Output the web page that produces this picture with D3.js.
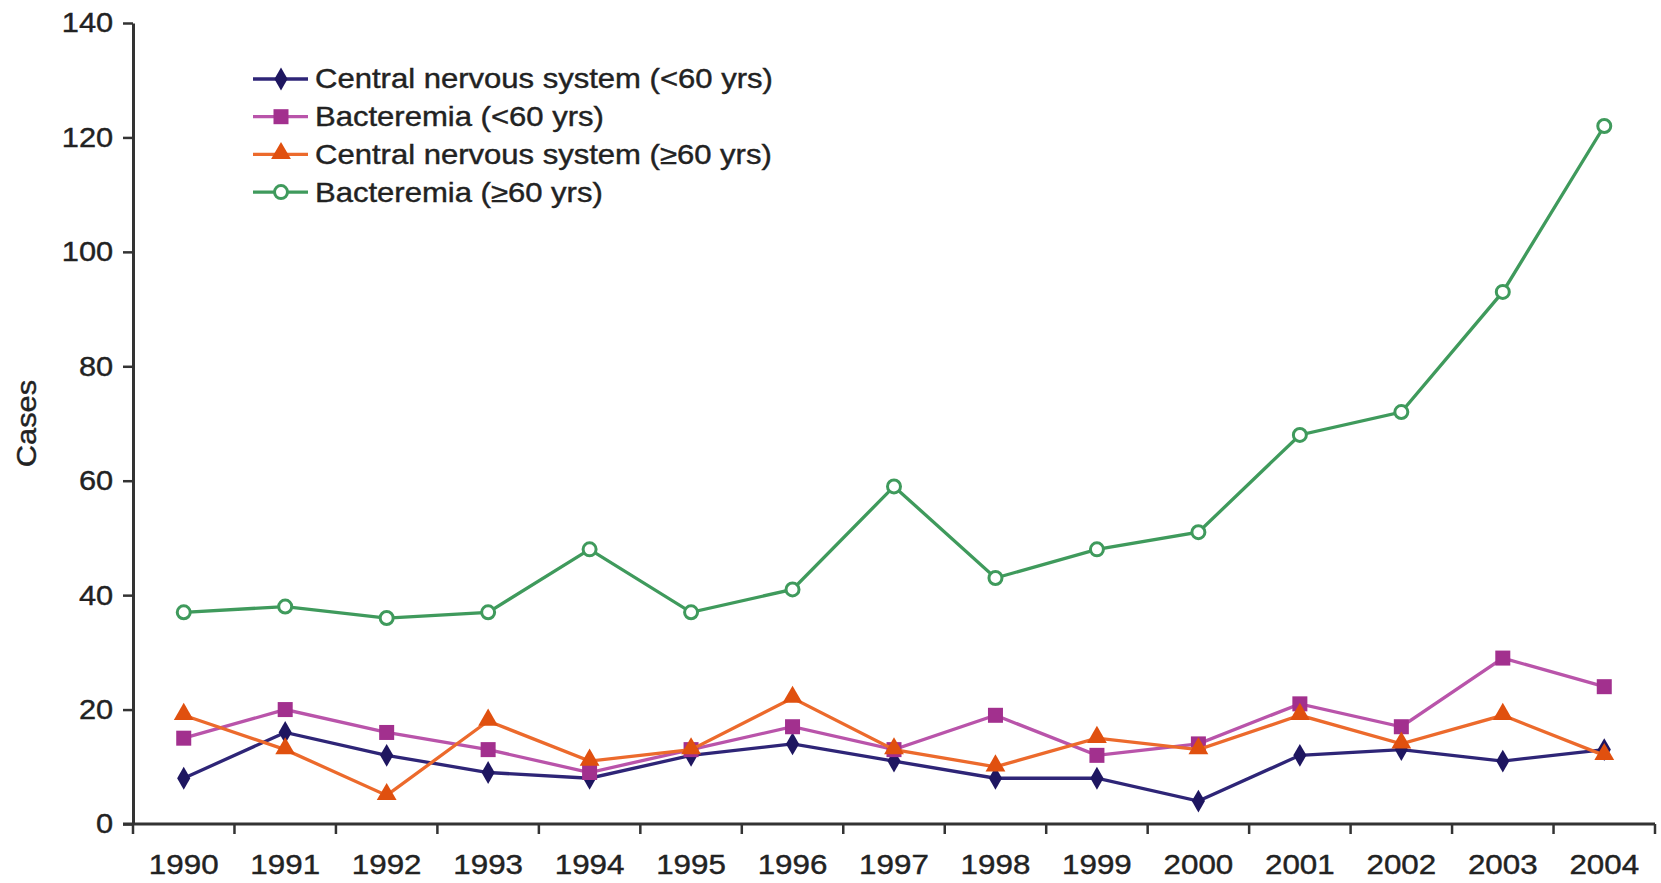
<!DOCTYPE html>
<html>
<head>
<meta charset="utf-8">
<script src="https://cdnjs.cloudflare.com/ajax/libs/d3/7.8.5/d3.min.js"></script>
<style>
  body { margin: 0; background: #fff; }
  text { font-family: "Liberation Sans", Arial, sans-serif; fill: #222; stroke: #222; stroke-width: 0.4; }
</style>
</head>
<body>
<svg id="chart" width="1661" height="883"></svg>
<script>
const years = ["1990","1991","1992","1993","1994","1995","1996","1997","1998","1999","2000","2001","2002","2003","2004"];
const cnsUnder60 = [8,16,12,9,8,12,14,11,8,8,4,12,13,11,13];
const bactUnder60 = [15,20,16,13,9,13,17,13,19,12,14,21,17,29,24];
const cnsOver60 = [19,13,5,18,11,13,22,13,10,15,13,19,14,19,12];
const bactOver60 = [37,38,36,37,48,37,41,59,43,48,51,68,72,93,122];
const yTicks = [0,20,40,60,80,100,120,140];

const series = [
  {name: "Central nervous system (<60 yrs)", values: cnsUnder60, line: "#2e2577", mark: "#1e1660", shape: "diamond"},
  {name: "Bacteremia (<60 yrs)", values: bactUnder60, line: "#b954aa", mark: "#a2308e", shape: "square"},
  {name: "Central nervous system (\u226560 yrs)", values: cnsOver60, line: "#ec6a2c", mark: "#e0500f", shape: "triangle"},
  {name: "Bacteremia (\u226560 yrs)", values: bactOver60, line: "#3f9a5c", mark: "#3f9a5c", shape: "circle"}
];

const svg = d3.select("#chart");
const mLeft = 133, mRight = 1655, mTop = 23, mBottom = 824;

const x = d3.scaleBand().domain(years).range([mLeft, mRight]);
const y = d3.scaleLinear().domain([0, 140]).range([mBottom, mTop]);
const cx = d => x(d) + x.bandwidth() / 2;

// y axis
const yAx = svg.append("g").attr("transform", "translate(" + mLeft + ",0)")
  .call(d3.axisLeft(y).tickValues(yTicks).tickSize(10).tickSizeOuter(0).tickPadding(8));
yAx.select(".domain").attr("stroke", "#333").attr("stroke-width", 3);
yAx.selectAll(".tick line").attr("stroke", "#333").attr("stroke-width", 2.5);
yAx.selectAll(".tick text").attr("font-size", 28).attr("fill", "#222").attr("transform", "scale(1.1,1)");

// x axis, ticks sit between categories
const xAx = svg.append("g").attr("transform", "translate(0," + mBottom + ")")
  .call(d3.axisBottom(x).tickSize(0).tickPadding(30));
xAx.select(".domain").remove();
xAx.selectAll(".tick text").attr("font-size", 28).attr("fill", "#222").attr("transform", "scale(1.12,1)");
svg.append("line").attr("x1", mLeft - 10).attr("x2", mRight).attr("y1", mBottom).attr("y2", mBottom)
  .attr("stroke", "#333").attr("stroke-width", 3);
svg.append("g").selectAll("line").data(years.concat(["end"]))
  .enter().append("line")
  .attr("x1", (d, i) => mLeft + i * x.bandwidth())
  .attr("x2", (d, i) => mLeft + i * x.bandwidth())
  .attr("y1", mBottom).attr("y2", mBottom + 10)
  .attr("stroke", "#333").attr("stroke-width", 2.5);

svg.append("text")
  .attr("transform", "translate(36," + ((mTop + mBottom) / 2) + ") rotate(-90) scale(1.1,1)")
  .attr("text-anchor", "middle").attr("font-size", 28).text("Cases");

function drawMarker(g, s, px, py) {
  if (s.shape === "diamond") {
    g.append("path").attr("d", d3.symbol().type(d3.symbolDiamond).size(150)())
      .attr("transform", "translate(" + px + "," + py + ")").attr("fill", s.mark);
  } else if (s.shape === "square") {
    g.append("rect").attr("x", px - 7.5).attr("y", py - 7.5).attr("width", 15).attr("height", 15).attr("fill", s.mark);
  } else if (s.shape === "triangle") {
    g.append("path").attr("d", d3.symbol().type(d3.symbolTriangle).size(170)())
      .attr("transform", "translate(" + px + "," + (py - 1) + ")").attr("fill", s.mark);
  } else {
    g.append("circle").attr("cx", px).attr("cy", py).attr("r", 6.5)
      .attr("fill", "#fff").attr("stroke", s.mark).attr("stroke-width", 3);
  }
}

const line = d3.line().x(d => cx(d.year)).y(d => y(d.v));

series.forEach(s => {
  const pts = years.map((yr, i) => ({year: yr, v: s.values[i]}));
  const g = svg.append("g");
  g.append("path").datum(pts).attr("d", line)
    .attr("fill", "none").attr("stroke", s.line).attr("stroke-width", 3.3);
  pts.forEach(p => drawMarker(g, s, cx(p.year), y(p.v)));
});

// legend
const lg = svg.append("g");
series.forEach((s, i) => {
  const ly = 79 + i * 37.7;
  lg.append("line").attr("x1", 253).attr("x2", 308).attr("y1", ly).attr("y2", ly)
    .attr("stroke", s.line).attr("stroke-width", 3.3);
  drawMarker(lg, s, 281, ly);
  lg.append("text").attr("transform", "translate(315," + ly + ") scale(1.15,1)")
    .attr("dy", "0.35em").attr("font-size", 27).text(s.name);
});
</script>
</body>
</html>
